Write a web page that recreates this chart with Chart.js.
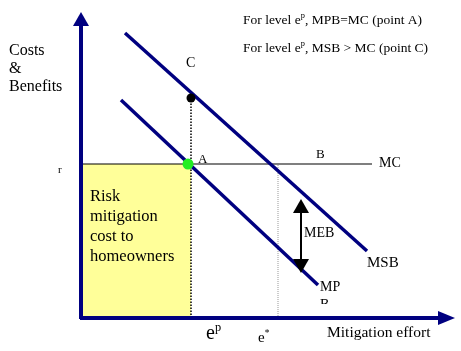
<!DOCTYPE html>
<html>
<head>
<meta charset="utf-8">
<script src="https://cdn.jsdelivr.net/npm/chart.js@4/dist/chart.umd.min.js"></script>
<style>
  html, body { margin: 0; padding: 0; background: #fff; }
  #wrap { width: 461px; height: 351px; }
</style>
</head>
<body>
<div id="wrap"><canvas id="diagram" width="461" height="351"></canvas></div>
<script>
// diagram units: origin where the two axes meet
const msbLine = [{ x: 44, y: 285 }, { x: 286, y: 67 }];
const mpbLine = [{ x: 40, y: 218 }, { x: 237, y: 33 }];
const mcLevel = 154;
const mcEnd = 291;
const ePrivate = 110;
const eSocial = 197;
const pointA = [{ x: 107, y: 154 }];
const pointC = [{ x: 110, y: 220 }];
const mebX = 220;
const mebTop = 119;
const mebBottom = 45;
const yAxisTip = 306;
const xAxisTip = 374;

const textLabels = [
    { text: 'Costs', x: -72, y: 267, size: 16 },
    { text: '&', x: -72, y: 249, size: 16 },
    { text: 'Benefits', x: -72, y: 231, size: 16 },
    { text: 'r', x: -23, y: 148, size: 11 },
    { text: 'C', x: 105, y: 255, size: 14 },
    { text: 'A', x: 117, y: 158, size: 13 },
    { text: 'B', x: 235, y: 163, size: 13 },
    { text: 'MC', x: 298, y: 155, size: 14 },
    { text: 'MEB', x: 223, y: 85, size: 14 },
    { text: 'MSB', x: 286, y: 55, size: 15 },
    { text: 'MP', x: 239, y: 31, size: 14 },
    { text: 'Risk', x: 9, y: 121, size: 16.5 },
    { text: 'mitigation', x: 9, y: 101, size: 16.5 },
    { text: 'cost to', x: 9, y: 81, size: 16.5 },
    { text: 'homeowners', x: 9, y: 61, size: 16.5 },
    { text: 'Mitigation effort', x: 246, y: -15, size: 15.5 },
    { text: 'For level e^p, MPB=MC (point A)', x: 162, y: 298, size: 13.5 },
    { text: 'For level e^p, MSB > MC (point C)', x: 162, y: 270, size: 13.5 },
    { text: 'e^p', x: 125, y: -16, size: 20 },
    { text: 'e^*', x: 177, y: -20, size: 15 }
];

const NAVY = '#000080';
const FONT = '"Liberation Serif", "Times New Roman", serif';

function lineSet(data, color, width, dash) {
    return {
        data: data,
        borderColor: color,
        borderWidth: width,
        borderDash: dash || [],
        borderCapStyle: 'butt',
        pointRadius: 0,
        fill: false,
        tension: 0
    };
}

function drawRich(ctx, label, px, py) {
    const parts = label.text.split('^');
    ctx.font = label.size + 'px ' + FONT;
    ctx.fillText(parts[0], px, py);
    if (parts.length < 2) return;
    let cx = px + ctx.measureText(parts[0]).width;
    const sup = parts[1].charAt(0);
    const rest = parts[1].slice(1);
    const supSize = label.size * 0.62;
    ctx.font = supSize + 'px ' + FONT;
    ctx.fillText(sup, cx, py - label.size * 0.32);
    cx += ctx.measureText(sup).width;
    ctx.font = label.size + 'px ' + FONT;
    ctx.fillText(rest, cx, py);
}

function arrowHead(ctx, tip, base, halfWidth) {
    const dx = tip.x - base.x, dy = tip.y - base.y;
    const len = Math.hypot(dx, dy);
    const nx = -dy / len, ny = dx / len;
    ctx.beginPath();
    ctx.moveTo(tip.x, tip.y);
    ctx.lineTo(base.x + nx * halfWidth, base.y + ny * halfWidth);
    ctx.lineTo(base.x - nx * halfWidth, base.y - ny * halfWidth);
    ctx.closePath();
    ctx.fill();
}

const overlay = {
    id: 'overlay',
    afterDatasetsDraw(chart) {
        const ctx = chart.ctx;
        const xs = chart.scales.x, ys = chart.scales.y;
        const P = (x, y) => ({ x: xs.getPixelForValue(x), y: ys.getPixelForValue(y) });
        ctx.save();

        // axis arrow heads
        ctx.fillStyle = NAVY;
        arrowHead(ctx, P(0, yAxisTip), P(0, yAxisTip - 14), 8);
        arrowHead(ctx, P(xAxisTip, 0), P(xAxisTip - 17, 0), 7);

        // MEB double arrow heads
        ctx.fillStyle = '#000';
        arrowHead(ctx, P(mebX, mebTop), P(mebX, mebTop - 14), 8);
        arrowHead(ctx, P(mebX, mebBottom), P(mebX, mebBottom + 14), 8);

        // labels
        ctx.fillStyle = '#000';
        ctx.textBaseline = 'middle';
        ctx.textAlign = 'left';
        textLabels.forEach(l => {
            const p = P(l.x, l.y);
            drawRich(ctx, l, p.x, p.y);
        });

        // the cut-off "B" under MP
        const clipTop = P(0, 14);
        ctx.beginPath();
        ctx.rect(0, 0, chart.width, clipTop.y);
        ctx.clip();
        const b = P(239, 13);
        ctx.font = '14px ' + FONT;
        ctx.fillText('B', b.x, b.y);

        ctx.restore();
    }
};

new Chart(document.getElementById('diagram'), {
    type: 'line',
    data: {
        datasets: [
            {
                data: pointA,
                showLine: false,
                pointRadius: 5.5,
                pointBackgroundColor: '#22ee22',
                pointBorderWidth: 0
            },
            {
                data: pointC,
                showLine: false,
                pointRadius: 4.5,
                pointBackgroundColor: '#000',
                pointBorderWidth: 0
            },
            lineSet([{ x: mebX, y: mebBottom + 13 }, { x: mebX, y: mebTop - 13 }], '#000', 2),
            lineSet([{ x: -1, y: 0 }, { x: xAxisTip - 16, y: 0 }], NAVY, 4),
            lineSet([{ x: 0, y: -1 }, { x: 0, y: yAxisTip - 13 }], NAVY, 4),
            lineSet(msbLine, NAVY, 3.5),
            lineSet(mpbLine, NAVY, 3.5),
            lineSet([{ x: 0, y: mcLevel }, { x: mcEnd, y: mcLevel }], '#000', 1.2),
            lineSet([{ x: ePrivate, y: 0 }, { x: ePrivate, y: pointC[0].y }], '#000', 1.5, [1.5, 1.5]),
            lineSet([{ x: eSocial, y: 0 }, { x: eSocial, y: mcLevel }], '#999', 1, [1, 1]),
            {
                data: [{ x: 0, y: mcLevel }, { x: ePrivate, y: mcLevel }],
                borderColor: 'rgba(0,0,0,0)',
                borderWidth: 0,
                backgroundColor: '#FFFF99',
                fill: 'origin',
                pointRadius: 0
            }
        ]
    },
    options: {
        responsive: false,
        animation: false,
        layout: { padding: 0, autoPadding: false },
        plugins: {
            legend: { display: false },
            tooltip: { enabled: false }
        },
        scales: {
            x: { type: 'linear', min: -81, max: 380, display: false },
            y: { type: 'linear', min: -33, max: 318, display: false }
        }
    },
    plugins: [overlay]
});
</script>
</body>
</html>
